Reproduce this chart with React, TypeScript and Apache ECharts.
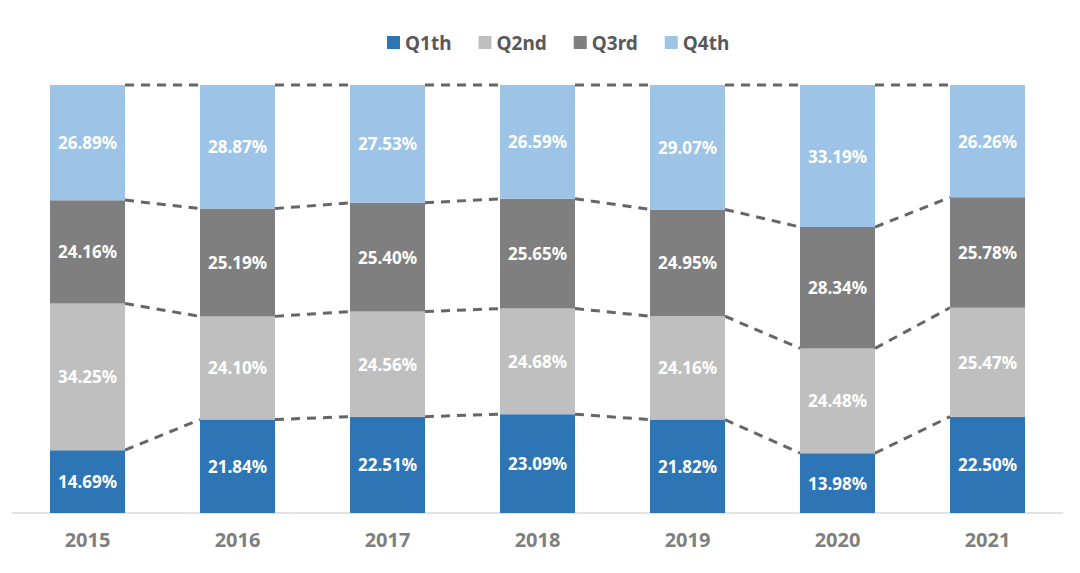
import React, { useEffect, useRef } from "react";
import * as echarts from "echarts";

const years = ["2015", "2016", "2017", "2018", "2019", "2020", "2021"];
const q1 = [14.69, 21.84, 22.51, 23.09, 21.82, 13.98, 22.5];
const q2 = [34.25, 24.1, 24.56, 24.68, 24.16, 24.48, 25.47];
const q3 = [24.16, 25.19, 25.4, 25.65, 24.95, 28.34, 25.78];
const q4 = [26.89, 28.87, 27.53, 26.59, 29.07, 33.19, 26.26];
const seriesNames = ["Q1th", "Q2nd", "Q3rd", "Q4th"];
const colors = ["#2e75b6", "#bfbfbf", "#7f7f7f", "#9dc3e6"];

export default function App() {
  const ref = useRef<HTMLDivElement>(null);
  useEffect(() => {
    if (!ref.current) return;
    const chart = echarts.init(ref.current, null, { renderer: "svg" });
    const all = [q1, q2, q3, q4];
    const lineData: number[][] = [];
    years.forEach((_, i) => {
      if (i === years.length - 1) return;
      const totA = q1[i] + q2[i] + q3[i] + q4[i];
      const totB = q1[i + 1] + q2[i + 1] + q3[i + 1] + q4[i + 1];
      let ca = 0;
      let cb = 0;
      for (let k = 0; k < 4; k++) {
        ca += all[k][i];
        cb += all[k][i + 1];
        lineData.push([i, (ca / totA) * 100, (cb / totB) * 100]);
      }
    });
    const fontFamily = "'Noto Sans', 'Open Sans', sans-serif";
    chart.setOption({
      animation: false,
      legend: {
        data: seriesNames,
        top: 28,
        left: 382,
        itemWidth: 13,
        itemHeight: 13,
        itemGap: 27,
        icon: "rect",
        textStyle: { color: "#595959", fontSize: 19, fontWeight: "bold", fontFamily },
      },
      grid: { left: 12.5, right: 17.5, top: 85, bottom: 60 },
      xAxis: {
        type: "category",
        data: years,
        axisLine: { lineStyle: { color: "#d9d9d9", width: 1.5 } },
        axisTick: { show: false },
        axisLabel: { color: "#7f7f7f", fontSize: 20, fontWeight: "bold", fontFamily, margin: 16 },
      },
      yAxis: {
        type: "value",
        min: 0,
        max: 100,
        show: false,
        splitLine: { show: false },
      },
      series: [
        ...seriesNames.map((name, k) => ({
          name,
          type: "bar",
          stack: "total",
          barWidth: "50%",
          data: all[k],
          itemStyle: { color: colors[k] },
          label: {
            show: true,
            position: "inside",
            color: "#ffffff",
            fontSize: 17,
            fontWeight: "bold",
            fontFamily,
            formatter: (p: any) => `${Number(p.value).toFixed(2)}%`,
          },
        })),
        {
          type: "custom",
          name: "lines",
          silent: true,
          encode: { x: 0, y: 1 },
          data: lineData,
          renderItem: (params: any, api: any) => {
            const i = api.value(0);
            const a = api.coord([i, api.value(1)]);
            const b = api.coord([i + 1, api.value(2)]);
            const half = api.size([1, 0])[0] * 0.25;
            return {
              type: "line",
              shape: { x1: a[0] + half, y1: a[1], x2: b[0] - half, y2: b[1] },
              style: { stroke: "#666666", lineWidth: 3, lineDash: [9, 7] },
            };
          },
        },
      ],
    });
    return () => chart.dispose();
  }, []);
  return (
    <div
      ref={ref}
      style={{ position: "absolute", left: 0, top: 0, width: 1080, height: 573, background: "#fff" }}
    />
  );
}
